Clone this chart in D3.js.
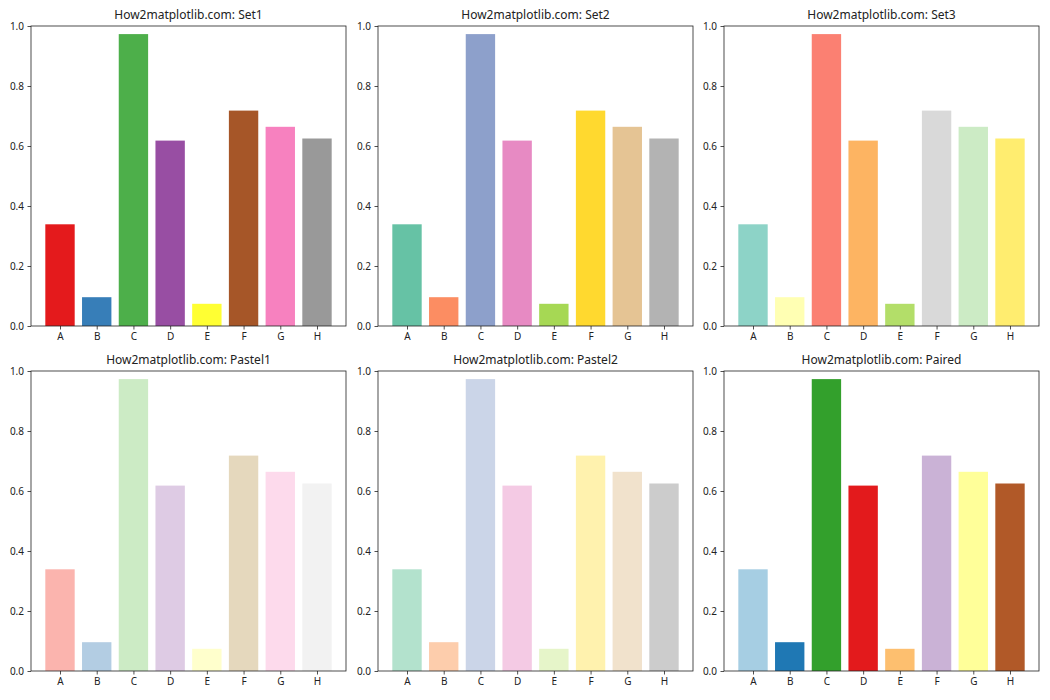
<!DOCTYPE html>
<html>
<head>
<meta charset="utf-8">
<script src="https://cdn.jsdelivr.net/npm/d3@7"></script>
<style>
  html, body { margin: 0; padding: 0; background: #fff; }
  svg { display: block; }
  text { font-family: "Noto Sans", "Open Sans", sans-serif; fill: #222; }
</style>
</head>
<body>
<svg id="chart" width="1050" height="700"></svg>
<script>
// ---- data ----
const categories = ["A", "B", "C", "D", "E", "F", "G", "H"];
const values = [0.339, 0.096, 0.973, 0.618, 0.074, 0.718, 0.664, 0.625];
const paletteNames = ["Set1", "Set2", "Set3", "Pastel1", "Pastel2", "Paired"];
const yTicks = [0.0, 0.2, 0.4, 0.6, 0.8, 1.0];
const titlePrefix = "How2matplotlib.com: ";

// ---- palettes (d3 colour schemes, sampled like matplotlib's cmap(np.linspace(0,1,n))) ----
const schemes = {
  Set1: d3.schemeSet1, Set2: d3.schemeSet2, Set3: d3.schemeSet3,
  Pastel1: d3.schemePastel1, Pastel2: d3.schemePastel2, Paired: d3.schemePaired
};
function sampleColors(scheme, n) {
  const N = scheme.length;
  return d3.range(n).map(i => {
    const x = n === 1 ? 0 : i / (n - 1);
    const idx = Math.min(N - 1, Math.floor(x * N));
    return scheme[idx];
  });
}

// ---- layout ----
const svg = d3.select("#chart");
const colLefts = [31, 378, 724];
const rowTops = [26, 371];
const axW = 315, axH = 300;

paletteNames.forEach((name, k) => {
  const r = Math.floor(k / 3), c = k % 3;
  const g = svg.append("g").attr("transform", `translate(${colLefts[c]},${rowTops[r]})`);
  const colors = sampleColors(schemes[name], categories.length);

  // x: bars of width 0.8 at integer positions, 5% margins like matplotlib
  const lo = -0.4, hi = categories.length - 1 + 0.4, m = (hi - lo) * 0.05;
  const x = d3.scaleLinear().domain([lo - m, hi + m]).range([0, axW]);
  const y = d3.scaleLinear().domain([0, 1]).range([axH, 0]);

  g.selectAll("rect.bar").data(values).join("rect")
    .attr("class", "bar")
    .attr("x", (d, i) => x(i - 0.4))
    .attr("width", (d, i) => x(i + 0.4) - x(i - 0.4))
    .attr("y", d => y(d))
    .attr("height", d => y(0) - y(d))
    .attr("fill", (d, i) => colors[i]);

  // axes
  const yAxis = d3.axisLeft(y).tickValues(yTicks).tickFormat(d3.format(".1f")).tickSizeOuter(0).tickSize(3.5).tickPadding(3.5);
  const xAxis = d3.axisBottom(x).tickValues(d3.range(categories.length)).tickFormat(i => categories[i]).tickSizeOuter(0).tickSize(3.5).tickPadding(3.5);

  const ya = g.append("g").call(yAxis);
  const xa = g.append("g").attr("transform", `translate(0,${axH})`).call(xAxis);
  [ya, xa].forEach(a => {
    a.select(".domain").remove();
    a.selectAll(".tick line").attr("stroke", "#222").attr("stroke-width", 0.8);
    a.selectAll(".tick text").attr("font-size", "10px").style("fill", "#222")
      .attr("font-family", "'Noto Sans', sans-serif");
  });

  // frame
  g.append("rect").attr("x", 0).attr("y", 0).attr("width", axW).attr("height", axH)
    .attr("fill", "none").attr("stroke", "#222").attr("stroke-width", 0.8);

  // title
  g.append("text").attr("x", axW / 2).attr("y", -7).attr("text-anchor", "middle")
    .attr("font-size", "12px").text(titlePrefix + name);
});
</script>
</body>
</html>
